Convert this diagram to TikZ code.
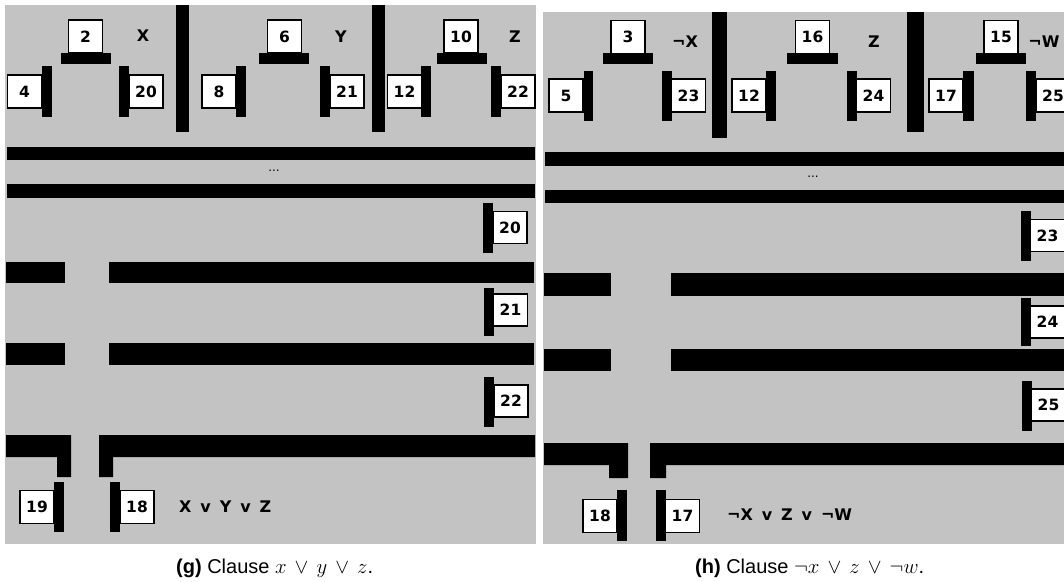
\documentclass[tikz,border=0pt]{standalone}
\usepackage{fontspec}
\newfontfamily\gadgetfont[WordSpace=1.6]{DejaVu Sans}
\newfontfamily\capfont{Liberation Sans}
\definecolor{panelgray}{RGB}{195,195,195}

\begin{document}
\begin{tikzpicture}[x=1pt,y=-1pt,
  bar/.style={fill=black},
  numbox/.style={draw=black, fill=white, line width=1.6pt, minimum width=34pt, minimum height=33pt, inner sep=0pt, font=\gadgetfont\bfseries\fontsize{15.5}{15.5}\selectfont},
  varlabel/.style={inner sep=0pt, font=\gadgetfont\bfseries\fontsize{16}{16}\selectfont},
  clauselabel/.style={anchor=west, inner sep=0pt, font=\gadgetfont\bfseries\fontsize{16}{16}\selectfont},
  dotslabel/.style={inner sep=0pt, font=\gadgetfont\fontsize{12}{12}\selectfont},
  caption/.style={anchor=base west, inner sep=0pt, font=\capfont\fontsize{20}{20}\selectfont}]
\useasboundingbox (0,0) rectangle (1064,581);
\fill[white] (0,0) rectangle (1064,581);
\fill[panelgray] (5,5) rectangle (536,544);
\fill[panelgray] (543,12) rectangle (1075,544);

\fill[bar] (61,53) rectangle (111,64);
\fill[bar] (42,66) rectangle (52,117);
\fill[bar] (119,66) rectangle (129,117);
\fill[bar] (176,5) rectangle (189,132);
\fill[bar] (259,53) rectangle (309,64);
\fill[bar] (236,66) rectangle (246,117);
\fill[bar] (320,66) rectangle (330,117);
\fill[bar] (372,5) rectangle (385,132);
\fill[bar] (437,53) rectangle (487,64);
\fill[bar] (421,66) rectangle (431,117);
\fill[bar] (491,66) rectangle (501,117);
\fill[bar] (7,147) rectangle (535,160);
\fill[bar] (7,184) rectangle (535,198);
\fill[bar] (483,203) rectangle (493,253);
\fill[bar] (6,262) rectangle (65,283);
\fill[bar] (109,262) rectangle (534,283);
\fill[bar] (484,288) rectangle (494,336);
\fill[bar] (6,343) rectangle (65,365);
\fill[bar] (109,343) rectangle (534,365);
\fill[bar] (484,377) rectangle (494,427);
\fill[bar] (6,435) -- (71,435) -- (71,477) -- (57,477) -- (57,457) -- (6,457) -- cycle;
\fill[bar] (99,435) -- (535,435) -- (535,457) -- (113,457) -- (113,477) -- (99,477) -- cycle;
\fill[bar] (54,482) rectangle (64,532);
\fill[bar] (110,482) rectangle (120,532);

\node[numbox] (g2) at (85.5,36.5) {2};
\node[numbox] (g4) at (24.5,91.5) {4};
\node[numbox] (g20) at (146,91.5) {20};
\node[varlabel] (gx) at (143,36) {X};
\node[numbox] (g6) at (284.5,36.5) {6};
\node[numbox] (g8) at (219,91.5) {8};
\node[numbox] (g21) at (347,91.5) {21};
\node[varlabel] (gy) at (341,37) {Y};
\node[numbox] (g10) at (461,36.5) {10};
\node[numbox] (g12) at (404.5,91.5) {12};
\node[numbox] (g22) at (518,91.5) {22};
\node[varlabel] (gz) at (515,37) {Z};
\node[dotslabel] (gdots) at (274,171) {...};
\node[numbox, minimum height=32pt] (g20r) at (510,227.5) {20};
\node[numbox, minimum height=32pt] (g21r) at (510.5,310) {21};
\node[numbox, minimum height=32pt] (g22r) at (511,401) {22};
\node[numbox] (g19) at (37,507) {19};
\node[numbox] (g18) at (137,507) {18};
\node[clauselabel] (gclause) at (179,507) {X v Y v Z};
\node[caption] (gcap) at (176,573) {\textbf{(g)} Clause $x \,\vee\, y \,\vee\, z$.};

\fill[bar] (603,53) rectangle (653,64);
\fill[bar] (583.5,70.5) rectangle (593,121);
\fill[bar] (662,70.5) rectangle (672,121);
\fill[bar] (712,12) rectangle (726.5,138);
\fill[bar] (766,70.5) rectangle (776,121);
\fill[bar] (787,53) rectangle (837.5,64);
\fill[bar] (847,70.5) rectangle (857,121);
\fill[bar] (907,12) rectangle (924,132);
\fill[bar] (963,70.5) rectangle (973.5,121);
\fill[bar] (976,53) rectangle (1026,64);
\fill[bar] (1025.6,70.5) rectangle (1036,121);
\fill[bar] (545,152) rectangle (1075,166);
\fill[bar] (545,190) rectangle (1075,203);
\fill[bar] (1020.5,211) rectangle (1030.5,261);
\fill[bar] (544,273) rectangle (611,296);
\fill[bar] (671,273) rectangle (1075,296);
\fill[bar] (1020.5,298) rectangle (1030.5,346);
\fill[bar] (544,349) rectangle (611,371);
\fill[bar] (671,349) rectangle (1075,371);
\fill[bar] (1021.5,381) rectangle (1031.5,431);
\fill[bar] (544,443) -- (628,443) -- (628,478) -- (609,478) -- (609,465) -- (544,465) -- cycle;
\fill[bar] (650,443) -- (1075,443) -- (1075,465) -- (666,465) -- (666,478) -- (650,478) -- cycle;
\fill[bar] (617,490) rectangle (627,541);
\fill[bar] (656,490) rectangle (666,541);

\node[numbox] (h3) at (628,37) {3};
\node[numbox] (h5) at (566,95.5) {5};
\node[numbox] (h23) at (688.5,95.5) {23};
\node[varlabel] (hx) at (685,42) {¬X};
\node[numbox] (h12) at (749,95.5) {12};
\node[numbox] (h16) at (812.5,37) {16};
\node[numbox] (h24) at (873.5,95.5) {24};
\node[varlabel] (hz) at (874,42) {Z};
\node[numbox] (h17) at (946,95.5) {17};
\node[numbox] (h15) at (1001,37) {15};
\node[numbox] (h25) at (1053,95.5) {25};
\node[varlabel] (hw) at (1044,42) {¬W};
\node[dotslabel] (hdots) at (813,177) {...};
\node[numbox, minimum height=32pt] (h23r) at (1047.5,235.5) {23};
\node[numbox, minimum height=32pt] (h24r) at (1047.5,322) {24};
\node[numbox, minimum height=32pt] (h25r) at (1048.5,405) {25};
\node[numbox] (h18) at (600,516) {18};
\node[numbox] (h17r) at (682.5,516) {17};
\node[clauselabel] (hclause) at (727,515) {¬X v Z v ¬W};
\node[caption] (hcap) at (695,573) {\textbf{(h)} Clause $\neg x \,\vee\, z \,\vee\, \neg w$.};
\end{tikzpicture}
\end{document}
